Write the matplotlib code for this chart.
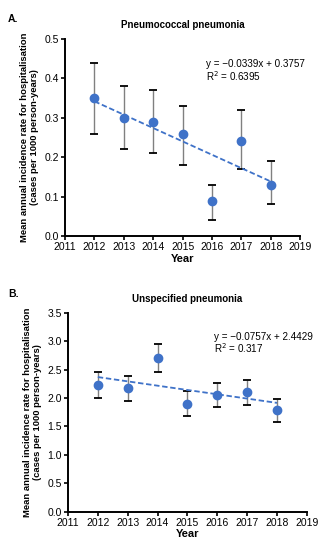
import numpy as np
import matplotlib.pyplot as plt

plt.rcParams['font.family'] = ['Liberation Sans', 'DejaVu Sans']

years = [2012, 2013, 2014, 2015, 2016, 2017, 2018]

pneumo_mean = [0.35, 0.30, 0.29, 0.26, 0.09, 0.24, 0.13]
pneumo_low = [0.26, 0.22, 0.21, 0.18, 0.04, 0.17, 0.08]
pneumo_high = [0.44, 0.38, 0.37, 0.33, 0.13, 0.32, 0.19]
pneumo_fit = (-0.0339, 0.3757)
pneumo_r2 = '0.6395'

unspec_mean = [2.22, 2.18, 2.70, 1.89, 2.05, 2.10, 1.79]
unspec_low = [2.00, 1.95, 2.46, 1.68, 1.84, 1.87, 1.58]
unspec_high = [2.45, 2.38, 2.95, 2.12, 2.27, 2.31, 1.99]
unspec_fit = (-0.0757, 2.4429)
unspec_r2 = '0.317'

blue = '#3f72c8'
ylabel = 'Mean annual incidence rate for hospitalisation\n(cases per 1000 person-years)'

fig = plt.figure(figsize=(3.22, 5.5), dpi=100)
ax1 = fig.add_axes([0.202, 0.571, 0.730, 0.358])
ax2 = fig.add_axes([0.211, 0.0696, 0.742, 0.362])


def panel(ax, mean, low, high, fit, r2, title, ymax, ystep, txt_xy):
    mean = np.array(mean)
    err = [mean - np.array(low), np.array(high) - mean]
    line, caps, bars = ax.errorbar(years, mean, yerr=err, fmt='none',
                                   ecolor='#808080', elinewidth=1.0,
                                   capsize=3, capthick=1.3, zorder=2)
    for c in caps:
        c.set_color('black')
        c.set_markeredgecolor('black')
    idx = np.arange(1, len(years) + 1)
    ax.plot(years, fit[0] * idx + fit[1], ls=(0, (3, 1.5)), color=blue,
            lw=1.3, zorder=3)
    ax.plot(years, mean, 'o', color=blue, ms=6, zorder=4)
    ax.set_xlim(2011, 2019)
    ax.set_ylim(0, ymax)
    ax.set_xticks(range(2011, 2020))
    ticks = np.arange(0, ymax + ystep / 2, ystep)
    ax.set_yticks(ticks)
    ax.set_yticklabels(['%.1f' % v for v in ticks])
    for s in ['top', 'right']:
        ax.spines[s].set_visible(False)
    for s in ['left', 'bottom']:
        ax.spines[s].set_linewidth(1.4)
    ax.tick_params(direction='out', length=3, width=1.2, labelsize=7.5, pad=1.5)
    ax.set_xlabel('Year', fontsize=8, fontweight='bold', labelpad=1)
    ax.set_ylabel(ylabel, fontsize=6.8, fontweight='bold', labelpad=4,
                  linespacing=1.15)
    ax.set_title(title, fontsize=7, fontweight='bold', pad=8)
    sign = '\u2212' if fit[0] < 0 else ''
    ax.text(txt_xy[0], txt_xy[1],
            'y = %s%.4fx + %.4f\nR$^{2}$ = %s' % (sign, abs(fit[0]), fit[1], r2),
            transform=ax.transAxes, fontsize=7.1, va='top', ha='left',
            linespacing=1.0)


panel(ax1, pneumo_mean, pneumo_low, pneumo_high, pneumo_fit, pneumo_r2,
      'Pneumococcal pneumonia', 0.5, 0.1, (0.6, 0.90))
panel(ax2, unspec_mean, unspec_low, unspec_high, unspec_fit, unspec_r2,
      'Unspecified pneumonia', 3.5, 0.5, (0.61, 0.905))

fig.text(0.025, 0.975, 'A.', fontsize=7.5, fontweight='bold', va='top')
fig.text(0.025, 0.475, 'B.', fontsize=7.5, fontweight='bold', va='top')

fig.savefig('out.png', dpi=100)
